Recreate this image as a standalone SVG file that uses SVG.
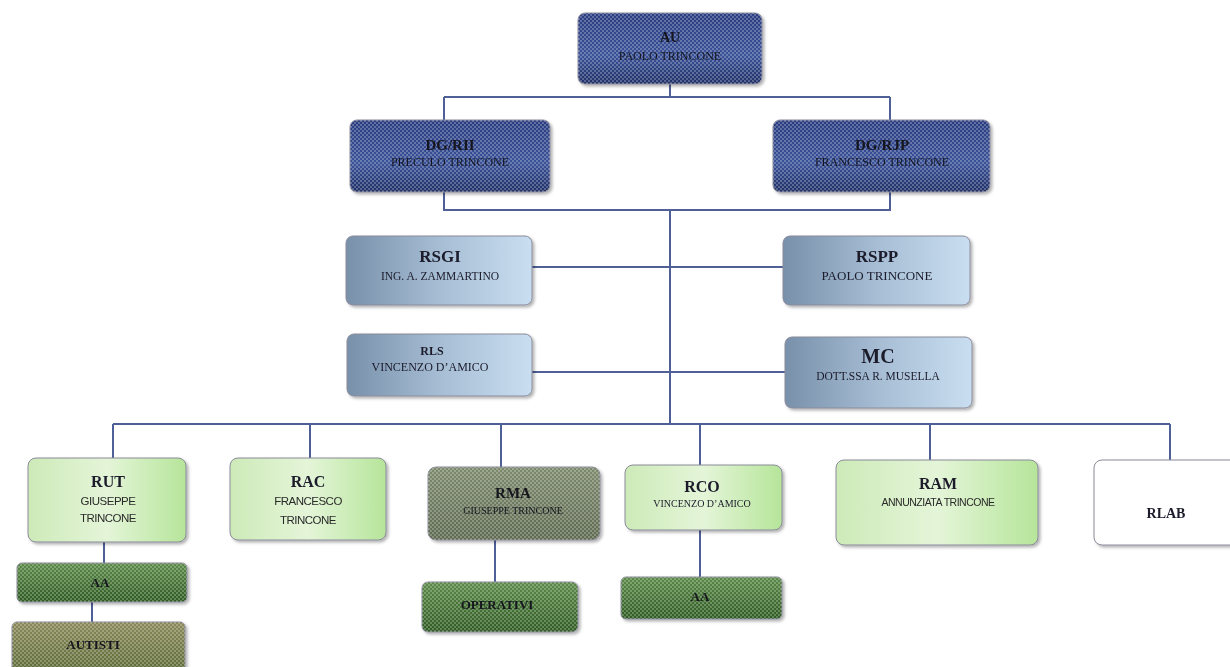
<svg xmlns="http://www.w3.org/2000/svg" width="1230" height="667" viewBox="0 0 1230 667">
<style>
.c{fill:none;stroke:#4f5f98;stroke-width:2}
.t{font-family:"Liberation Serif",serif;font-weight:bold;text-anchor:middle;fill:#1a1a2a}
.s{font-family:"Liberation Serif",serif;text-anchor:middle;fill:#1a1a2a}
.ss{font-family:"Liberation Sans",sans-serif;text-anchor:middle;fill:#2a2a2a;letter-spacing:-0.5px}
.d{fill:#15151f}
.b{stroke:#8a8a9a;stroke-width:1}
</style>
<defs>
<linearGradient id="gBlue" x1="0" y1="0" x2="0" y2="1"><stop offset="0" stop-color="#2a3c80"/><stop offset="0.6" stop-color="#3a5298"/><stop offset="1" stop-color="#1f2f66"/></linearGradient>
<linearGradient id="gGray" x1="0" y1="0" x2="1" y2="0"><stop offset="0" stop-color="#7890aa"/><stop offset="0.5" stop-color="#a6bdd4"/><stop offset="1" stop-color="#c9def0"/></linearGradient>
<linearGradient id="gGreen" x1="0" y1="0" x2="1" y2="0"><stop offset="0" stop-color="#cdeab8"/><stop offset="0.5" stop-color="#e4f5d8"/><stop offset="1" stop-color="#b6e59a"/></linearGradient>
<linearGradient id="gDark" x1="0" y1="0" x2="0" y2="1"><stop offset="0" stop-color="#5c8a48"/><stop offset="1" stop-color="#2e5a22"/></linearGradient>
<linearGradient id="gOlive" x1="0" y1="0" x2="0" y2="1"><stop offset="0" stop-color="#8a8a58"/><stop offset="1" stop-color="#5c6a38"/></linearGradient>
<linearGradient id="gRma" x1="0" y1="0" x2="0" y2="1"><stop offset="0" stop-color="#7e8a6e"/><stop offset="1" stop-color="#5e6a50"/></linearGradient>
<pattern id="chk" width="4" height="4" patternUnits="userSpaceOnUse"><rect width="2" height="2" fill="#ffffff" fill-opacity="0.25"/><rect x="2" y="2" width="2" height="2" fill="#ffffff" fill-opacity="0.25"/></pattern>
<filter id="sh" x="-5%" y="-10%" width="115%" height="130%"><feDropShadow dx="2" dy="2" stdDeviation="1.5" flood-color="#000" flood-opacity="0.3"/></filter>
</defs>
<rect width="1230" height="667" fill="#ffffff"/>

<g id="connectors">
<path class="c" d="M670 84V97M444 97H890M444 97V120M890 97V120"/>
<path class="c" d="M444 192V210H890V192M670 210V424"/>
<path class="c" d="M532 267H783M532 372H785"/>
<path class="c" d="M113 424H1170M113 424V458M310 424V458M501 424V467M700 424V465M930 424V460M1170 424V460"/>
<path class="c" d="M104 542V563M92 602V622M495 540V582M700 530V577"/>
</g>

<g id="au" filter="url(#sh)">
<rect x="578" y="13" width="184" height="71" rx="7" fill="url(#gBlue)" class="b"/>
<rect x="578" y="13" width="184" height="71" rx="7" fill="url(#chk)"/>
<text class="t d" x="670" y="42" font-size="14">AU</text>
<text class="s d" x="670" y="60" font-size="12">PAOLO TRINCONE</text>
</g>

<g id="dgrii" filter="url(#sh)">
<rect x="350" y="120" width="200" height="72" rx="7" fill="url(#gBlue)" class="b"/>
<rect x="350" y="120" width="200" height="72" rx="7" fill="url(#chk)"/>
<text class="t d" x="450" y="150" font-size="15">DG/RII</text>
<text class="s d" x="450" y="166" font-size="12">PRECULO TRINCONE</text>
</g>

<g id="dgrjp" filter="url(#sh)">
<rect x="773" y="120" width="217" height="72" rx="7" fill="url(#gBlue)" class="b"/>
<rect x="773" y="120" width="217" height="72" rx="7" fill="url(#chk)"/>
<text class="t d" x="882" y="150" font-size="15">DG/RJP</text>
<text class="s d" x="882" y="166" font-size="12">FRANCESCO TRINCONE</text>
</g>

<g id="rsgi" filter="url(#sh)">
<rect x="346" y="236" width="186" height="69" rx="7" fill="url(#gGray)" class="b"/>
<text class="t" x="440" y="262" font-size="17">RSGI</text>
<text class="s" x="440" y="280" font-size="11.5">ING. A. ZAMMARTINO</text>
</g>

<g id="rspp" filter="url(#sh)">
<rect x="783" y="236" width="187" height="69" rx="7" fill="url(#gGray)" class="b"/>
<text class="t" x="877" y="262" font-size="17">RSPP</text>
<text class="s" x="877" y="280" font-size="13">PAOLO TRINCONE</text>
</g>

<g id="rls" filter="url(#sh)">
<rect x="347" y="334" width="185" height="62" rx="7" fill="url(#gGray)" class="b"/>
<text class="t" x="432" y="355" font-size="12">RLS</text>
<text class="s" x="430" y="371" font-size="12">VINCENZO D’AMICO</text>
</g>

<g id="mc" filter="url(#sh)">
<rect x="785" y="337" width="187" height="71" rx="7" fill="url(#gGray)" class="b"/>
<text class="t" x="878" y="363" font-size="20">MC</text>
<text class="s" x="878" y="380" font-size="11.5">DOTT.SSA R. MUSELLA</text>
</g>

<g id="rut" filter="url(#sh)">
<rect x="28" y="458" width="158" height="84" rx="8" fill="url(#gGreen)" class="b"/>
<text class="t" x="108" y="487" font-size="16">RUT</text>
<text class="ss" x="108" y="505" font-size="11.5">GIUSEPPE</text>
<text class="ss" x="108" y="522" font-size="11.5">TRINCONE</text>
</g>

<g id="rac" filter="url(#sh)">
<rect x="230" y="458" width="156" height="82" rx="8" fill="url(#gGreen)" class="b"/>
<text class="t" x="308" y="487" font-size="16">RAC</text>
<text class="ss" x="308" y="505" font-size="11.5">FRANCESCO</text>
<text class="ss" x="308" y="524" font-size="11.5">TRINCONE</text>
</g>

<g id="rma" filter="url(#sh)">
<rect x="428" y="467" width="172" height="73" rx="8" fill="url(#gRma)" class="b"/>
<rect x="428" y="467" width="172" height="73" rx="8" fill="url(#chk)"/>
<text class="t d" x="513" y="498" font-size="15">RMA</text>
<text class="s d" x="513" y="514" font-size="10">GIUSEPPE TRINCONE</text>
</g>

<g id="rco" filter="url(#sh)">
<rect x="625" y="465" width="157" height="65" rx="8" fill="url(#gGreen)" class="b"/>
<text class="t" x="702" y="492" font-size="16">RCO</text>
<text class="s" x="702" y="507" font-size="10">VINCENZO D’AMICO</text>
</g>

<g id="ram" filter="url(#sh)">
<rect x="836" y="460" width="202" height="85" rx="8" fill="url(#gGreen)" class="b"/>
<text class="t" x="938" y="489" font-size="16">RAM</text>
<text class="ss" x="938" y="506" font-size="10.5">ANNUNZIATA TRINCONE</text>
</g>

<g id="rlab" filter="url(#sh)">
<rect x="1094" y="460" width="145" height="85" rx="8" fill="#ffffff" class="b"/>
<text class="t" x="1166" y="518" font-size="14">RLAB</text>
</g>

<g id="aa1" filter="url(#sh)">
<rect x="17" y="563" width="170" height="39" rx="5" fill="url(#gDark)" class="b"/>
<rect x="17" y="563" width="170" height="39" rx="5" fill="url(#chk)"/>
<text class="t d" x="100" y="587" font-size="13">AA</text>
</g>

<g id="autisti" filter="url(#sh)">
<rect x="12" y="622" width="173" height="50" rx="5" fill="url(#gOlive)" class="b"/>
<rect x="12" y="622" width="173" height="50" rx="5" fill="url(#chk)"/>
<text class="t d" x="93" y="649" font-size="13">AUTISTI</text>
</g>

<g id="operativi" filter="url(#sh)">
<rect x="422" y="582" width="156" height="50" rx="6" fill="url(#gDark)" class="b"/>
<rect x="422" y="582" width="156" height="50" rx="6" fill="url(#chk)"/>
<text class="t d" x="497" y="609" font-size="13">OPERATIVI</text>
</g>

<g id="aa2" filter="url(#sh)">
<rect x="621" y="577" width="161" height="42" rx="5" fill="url(#gDark)" class="b"/>
<rect x="621" y="577" width="161" height="42" rx="5" fill="url(#chk)"/>
<text class="t d" x="700" y="601" font-size="13">AA</text>
</g>
</svg>
